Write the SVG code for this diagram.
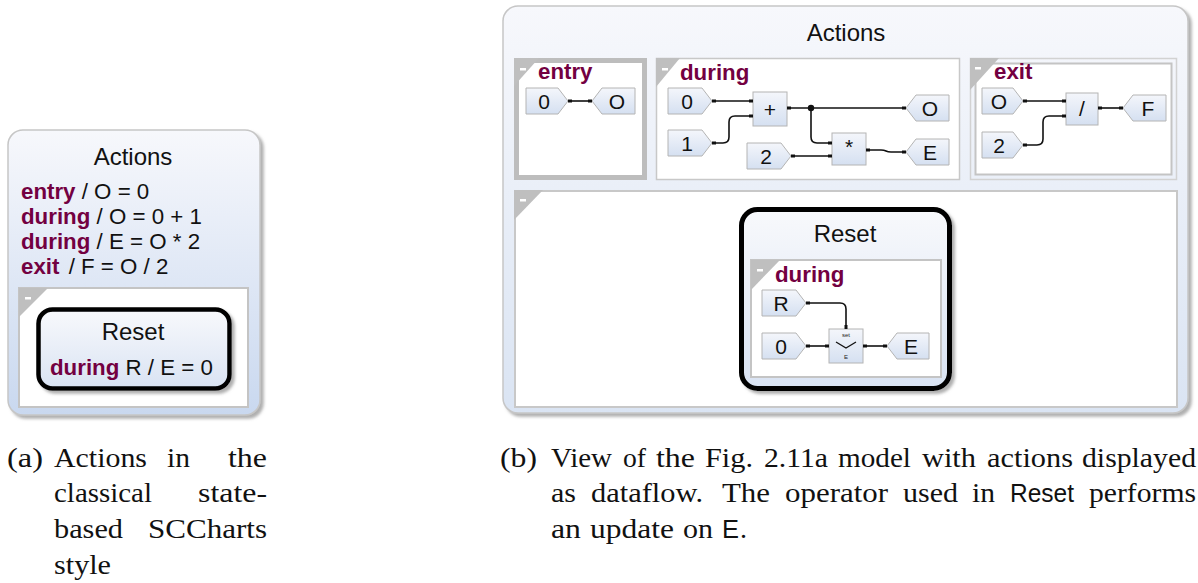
<svg xmlns="http://www.w3.org/2000/svg" width="1198" height="583" viewBox="0 0 1198 583">
  <defs>
    <linearGradient id="stateGrad" x1="0" y1="0" x2="0" y2="1">
      <stop offset="0" stop-color="#f7f8fc"/>
      <stop offset="1" stop-color="#c9d8ef"/>
    </linearGradient>
    <linearGradient id="panelGrad" x1="0" y1="0" x2="0" y2="1">
      <stop offset="0" stop-color="#f7f8fc"/>
      <stop offset="1" stop-color="#dae4f3"/>
    </linearGradient>
    <linearGradient id="resetGrad" x1="0" y1="0" x2="0" y2="1">
      <stop offset="0" stop-color="#f8f9fc"/>
      <stop offset="1" stop-color="#d9e3f3"/>
    </linearGradient>
    <linearGradient id="nodeGrad" x1="0" y1="0" x2="0" y2="1">
      <stop offset="0" stop-color="#f4f6fb"/>
      <stop offset="1" stop-color="#d5e0f1"/>
    </linearGradient>
    <filter id="shadow" x="-5%" y="-5%" width="115%" height="115%">
      <feDropShadow dx="3" dy="3" stdDeviation="1.8" flood-color="#7a7a7a" flood-opacity="0.6"/>
    </filter>
    <marker id="port" viewBox="0 0 4 4" refX="4" refY="2" markerWidth="4" markerHeight="4" markerUnits="userSpaceOnUse" orient="auto-start-reverse">
      <rect x="0" y="0.5" width="4" height="3" fill="#111"/>
    </marker>
    <style>
      .state { fill: url(#stateGrad); stroke: #c6c6c6; stroke-width: 1.5; }
      .panel { fill: url(#panelGrad); stroke: #c6c6c6; stroke-width: 1.5; }
      .reset { fill: url(#resetGrad); stroke: #000; }
      .region { fill: #fff; stroke: #c4c4c4; stroke-width: 2; }
      .tri { fill: #bfbfbf; }
      .dash { fill: #fff; }
      .node { fill: url(#nodeGrad); stroke: #b4b4b4; stroke-width: 1; }
      .lbl { font-family: "Liberation Sans", Arial, sans-serif; font-size: 21px; fill: #111; text-anchor: middle; }
      .tiny { font-family: "Liberation Sans", Arial, sans-serif; font-size: 6px; fill: #222; text-anchor: middle; }
      .title { font-family: "Liberation Sans", Arial, sans-serif; font-size: 24px; fill: #111; text-anchor: middle; }
      .act { font-family: "Liberation Sans", Arial, sans-serif; font-size: 22.3px; fill: #111; }
      .kw { font-family: "Liberation Sans", Arial, sans-serif; font-size: 22.3px; font-weight: bold; fill: #730041; }
      .edge { fill: none; stroke: #111; stroke-width: 1.6; }
      .pe { marker-start: url(#port); marker-end: url(#port); }
      .cap { font-family: "Liberation Serif", "Times New Roman", serif; font-size: 28px; fill: #111; }
      .capsf { font-family: "Liberation Sans", Arial, sans-serif; font-size: 26px; fill: #111; }
    </style>
  </defs>

  <!-- (a) classical textual view -->
  <g id="stateActionsText">
    <rect class="state" x="8" y="130" width="252" height="285" rx="15" filter="url(#shadow)"/>
    <text class="title" x="133" y="165">Actions</text>
    <text class="act" x="21" y="199"><tspan class="kw">entry</tspan> / O = 0</text>
    <text class="act" x="21" y="224"><tspan class="kw">during</tspan> / O = 0 + 1</text>
    <text class="act" x="21" y="249"><tspan class="kw">during</tspan> / E = O * 2</text>
    <text class="act" x="21" y="274"><tspan class="kw">exit</tspan> <tspan dx="3">/ F = O / 2</tspan></text>
    <rect class="region" x="19" y="288" width="229" height="119"/>
    <path class="tri" d="M19,288 H48 L19,317 Z"/>
    <rect class="dash" x="25" y="297" width="6" height="2.5"/>
  </g>
  <g id="stateResetText">
    <rect class="reset" x="38.5" y="309.5" width="191" height="79" rx="14" stroke-width="4.5" filter="url(#shadow)"/>
    <text class="title" x="133" y="340">Reset</text>
    <text class="act" x="50" y="375"><tspan class="kw">during</tspan> R / E = 0</text>
  </g>

  <!-- (b) dataflow view -->
  <g id="stateActionsFlow">
    <rect class="panel" x="503" y="6" width="685" height="407" rx="15" filter="url(#shadow)"/>
    <text class="title" x="846" y="41">Actions</text>
  </g>

  <g id="regionEntry">
    <rect x="516.5" y="60.5" width="128" height="117" fill="#fff" stroke="#bdbdbd" stroke-width="5"/>
    <path class="tri" d="M514,58 H539 L514,86 Z"/>
    <rect class="dash" x="520" y="68" width="6" height="2.5"/>
    <text class="kw" x="538" y="79">entry</text>
  </g>
  <g id="entryIn0">
    <path class="node" d="M526,88 H558 L568,101 L558,114 H526 Z"/>
    <text class="lbl" x="544" y="108.5">0</text>
  </g>
  <g id="entryOutO">
    <path class="node" d="M602,88 H635 V114 H602 L592,101 Z"/>
    <text class="lbl" x="617" y="108.5">O</text>
  </g>

  <g id="regionDuring">
    <rect x="656.5" y="58.5" width="303" height="121" fill="#fff" stroke="#c8c8c8" stroke-width="1.5"/>
    <path class="tri" d="M656,58 H680 L656,87 Z"/>
    <rect class="dash" x="662" y="68" width="6" height="2.5"/>
    <text class="kw" x="680" y="80">during</text>
  </g>
  <g id="duringIn0">
    <path class="node" d="M668,88 H702 L712,101 L702,114 H668 Z"/>
    <text class="lbl" x="687" y="108.5">0</text>
  </g>
  <g id="duringIn1">
    <path class="node" d="M668,130 H702 L712,143 L702,156 H668 Z"/>
    <text class="lbl" x="687" y="150.5">1</text>
  </g>
  <g id="duringPlus">
    <rect class="node" x="753" y="92" width="34" height="34"/>
    <text class="lbl" x="770" y="116.5">+</text>
  </g>
  <g id="duringIn2">
    <path class="node" d="M747,143 H781 L791,156 L781,169 H747 Z"/>
    <text class="lbl" x="766" y="163.5">2</text>
  </g>
  <g id="duringMul">
    <rect class="node" x="832" y="133" width="34" height="32"/>
    <text class="lbl" x="849" y="154">*</text>
  </g>
  <g id="duringOutO">
    <path class="node" d="M916,95 H949 V121 H916 L906,108 Z"/>
    <text class="lbl" x="930" y="115.5">O</text>
  </g>
  <g id="duringOutE">
    <path class="node" d="M916,139 H949 V165 H916 L906,152 Z"/>
    <text class="lbl" x="930" y="159.5">E</text>
  </g>

  <g id="regionExit">
    <rect x="970.5" y="58.5" width="206" height="121" fill="none" stroke="#d2d2d2" stroke-width="1.5"/>
    <rect x="975.5" y="63.5" width="196" height="111" fill="#fff" stroke="#c4c4c4" stroke-width="2"/>
    <path class="tri" d="M970,58 H999 L970,90 Z"/>
    <rect class="dash" x="975" y="67" width="6" height="2.5"/>
    <text class="kw" x="994" y="79">exit</text>
  </g>
  <g id="exitInO">
    <path class="node" d="M982,88 H1013 L1023,101 L1013,114 H982 Z"/>
    <text class="lbl" x="999" y="108.5">O</text>
  </g>
  <g id="exitIn2">
    <path class="node" d="M982,132 H1013 L1023,145 L1013,158 H982 Z"/>
    <text class="lbl" x="999" y="152.5">2</text>
  </g>
  <g id="exitDiv">
    <rect class="node" x="1066" y="93" width="32" height="32"/>
    <text class="lbl" x="1082" y="116">/</text>
  </g>
  <g id="exitOutF">
    <path class="node" d="M1133,95 H1166 V121 H1133 L1123,108 Z"/>
    <text class="lbl" x="1148" y="115.5">F</text>
  </g>

  <g id="regionMain">
    <rect x="515" y="191" width="662" height="216" fill="#fff" stroke="#c8c8c8" stroke-width="2"/>
    <path class="tri" d="M514,190 H543 L514,220 Z"/>
    <rect class="dash" x="520" y="199" width="6" height="2.5"/>
  </g>
  <g id="stateResetFlow">
    <rect class="reset" x="741.5" y="209.5" width="208" height="179" rx="16" stroke-width="5" filter="url(#shadow)"/>
    <text class="title" x="845" y="242">Reset</text>
    <rect class="region" x="751" y="260" width="190" height="117" stroke-width="1.5"/>
    <path class="tri" d="M751,260 H780 L751,290 Z"/>
    <rect class="dash" x="757" y="269" width="6" height="2.5"/>
    <text class="kw" x="775" y="282">during</text>
  </g>
  <g id="resetInR">
    <path class="node" d="M762,290 H796 L806,303 L796,316 H762 Z"/>
    <text class="lbl" x="781" y="310.5">R</text>
  </g>
  <g id="resetIn0">
    <path class="node" d="M762,333 H796 L806,346 L796,359 H762 Z"/>
    <text class="lbl" x="781" y="353.5">0</text>
  </g>
  <g id="resetSet">
    <rect class="node" x="829" y="329" width="34" height="34"/>
    <text class="tiny" x="846" y="337">set</text>
    <polyline points="836,342 846,348 856,342" fill="none" stroke="#111" stroke-width="1.3"/>
    <text class="tiny" x="846" y="359">E</text>
  </g>
  <g id="resetOutE">
    <path class="node" d="M897,333 H929 V359 H897 L887,346 Z"/>
    <text class="lbl" x="911" y="353.5">E</text>
  </g>

  <!-- dataflow connectors -->
  <g id="connectors">
    <path class="edge pe" d="M568,101 H592"/>
    <path class="edge pe" d="M712,101 H753"/>
    <path class="edge pe" d="M712,143 H723 Q729,143 729,137 V122 Q729,116 735,116 H753"/>
    <path class="edge pe" d="M787,108 H906"/>
    <circle cx="811" cy="108" r="3.2" fill="#111"/>
    <path class="edge" marker-end="url(#port)" d="M811,108 V137 Q811,143 817,143 H832"/>
    <path class="edge pe" d="M791,156 H832"/>
    <path class="edge pe" d="M866,150 H881 Q884,150 886,151 Q888,152 891,152 H906"/>
    <path class="edge pe" d="M1023,101 H1066"/>
    <path class="edge pe" d="M1023,145 H1037 Q1043,145 1043,139 V122 Q1043,116 1049,116 H1066"/>
    <path class="edge pe" d="M1098,108 H1123"/>
    <path class="edge pe" d="M806,303 H840 Q846,303 846,309 V329"/>
    <path class="edge pe" d="M806,346 H829"/>
    <path class="edge pe" d="M863,346 H887"/>
  </g>

  <!-- captions: justified lines, one text per word -->
  <g id="captionA">
    <text class="cap" x="7" y="467" textLength="36" lengthAdjust="spacingAndGlyphs">(a)</text>
    <text class="cap" x="54" y="467" textLength="93" lengthAdjust="spacingAndGlyphs">Actions</text>
    <text class="cap" x="167" y="467" textLength="23" lengthAdjust="spacingAndGlyphs">in</text>
    <text class="cap" x="228" y="467" textLength="39" lengthAdjust="spacingAndGlyphs">the</text>
    <text class="cap" x="54" y="502" textLength="98" lengthAdjust="spacingAndGlyphs">classical</text>
    <text class="cap" x="198" y="502" textLength="69" lengthAdjust="spacingAndGlyphs">state-</text>
    <text class="cap" x="54" y="538" textLength="69" lengthAdjust="spacingAndGlyphs">based</text>
    <text class="cap" x="148" y="538" textLength="119" lengthAdjust="spacingAndGlyphs">SCCharts</text>
    <text class="cap" x="54" y="574" textLength="57" lengthAdjust="spacingAndGlyphs">style</text>
  </g>
  <g id="captionB">
    <text class="cap" x="500" y="467" textLength="37" lengthAdjust="spacingAndGlyphs">(b)</text>
    <text class="cap" x="551" y="467" textLength="61" lengthAdjust="spacingAndGlyphs">View</text>
    <text class="cap" x="623" y="467" textLength="23" lengthAdjust="spacingAndGlyphs">of</text>
    <text class="cap" x="656" y="467" textLength="39" lengthAdjust="spacingAndGlyphs">the</text>
    <text class="cap" x="705" y="467" textLength="48" lengthAdjust="spacingAndGlyphs">Fig.</text>
    <text class="cap" x="764" y="467" textLength="64" lengthAdjust="spacingAndGlyphs">2.11a</text>
    <text class="cap" x="838" y="467" textLength="73" lengthAdjust="spacingAndGlyphs">model</text>
    <text class="cap" x="922" y="467" textLength="54" lengthAdjust="spacingAndGlyphs">with</text>
    <text class="cap" x="987" y="467" textLength="86" lengthAdjust="spacingAndGlyphs">actions</text>
    <text class="cap" x="1082" y="467" textLength="114" lengthAdjust="spacingAndGlyphs">displayed</text>
    <text class="cap" x="551" y="502" textLength="25" lengthAdjust="spacingAndGlyphs">as</text>
    <text class="cap" x="591" y="502" textLength="112" lengthAdjust="spacingAndGlyphs">dataflow.</text>
    <text class="cap" x="722" y="502" textLength="48" lengthAdjust="spacingAndGlyphs">The</text>
    <text class="cap" x="785" y="502" textLength="103" lengthAdjust="spacingAndGlyphs">operator</text>
    <text class="cap" x="903" y="502" textLength="55" lengthAdjust="spacingAndGlyphs">used</text>
    <text class="cap" x="972" y="502" textLength="23" lengthAdjust="spacingAndGlyphs">in</text>
    <text class="capsf" x="1010" y="502" textLength="64" lengthAdjust="spacingAndGlyphs">Reset</text>
    <text class="cap" x="1089" y="502" textLength="107" lengthAdjust="spacingAndGlyphs">performs</text>
    <text class="cap" x="551" y="538" textLength="30" lengthAdjust="spacingAndGlyphs">an</text>
    <text class="cap" x="590" y="538" textLength="84" lengthAdjust="spacingAndGlyphs">update</text>
    <text class="cap" x="683" y="538" textLength="30" lengthAdjust="spacingAndGlyphs">on</text>
    <text class="capsf" x="722" y="538" textLength="17" lengthAdjust="spacingAndGlyphs">E</text>
    <text class="cap" x="740" y="538">.</text>
  </g>
</svg>
